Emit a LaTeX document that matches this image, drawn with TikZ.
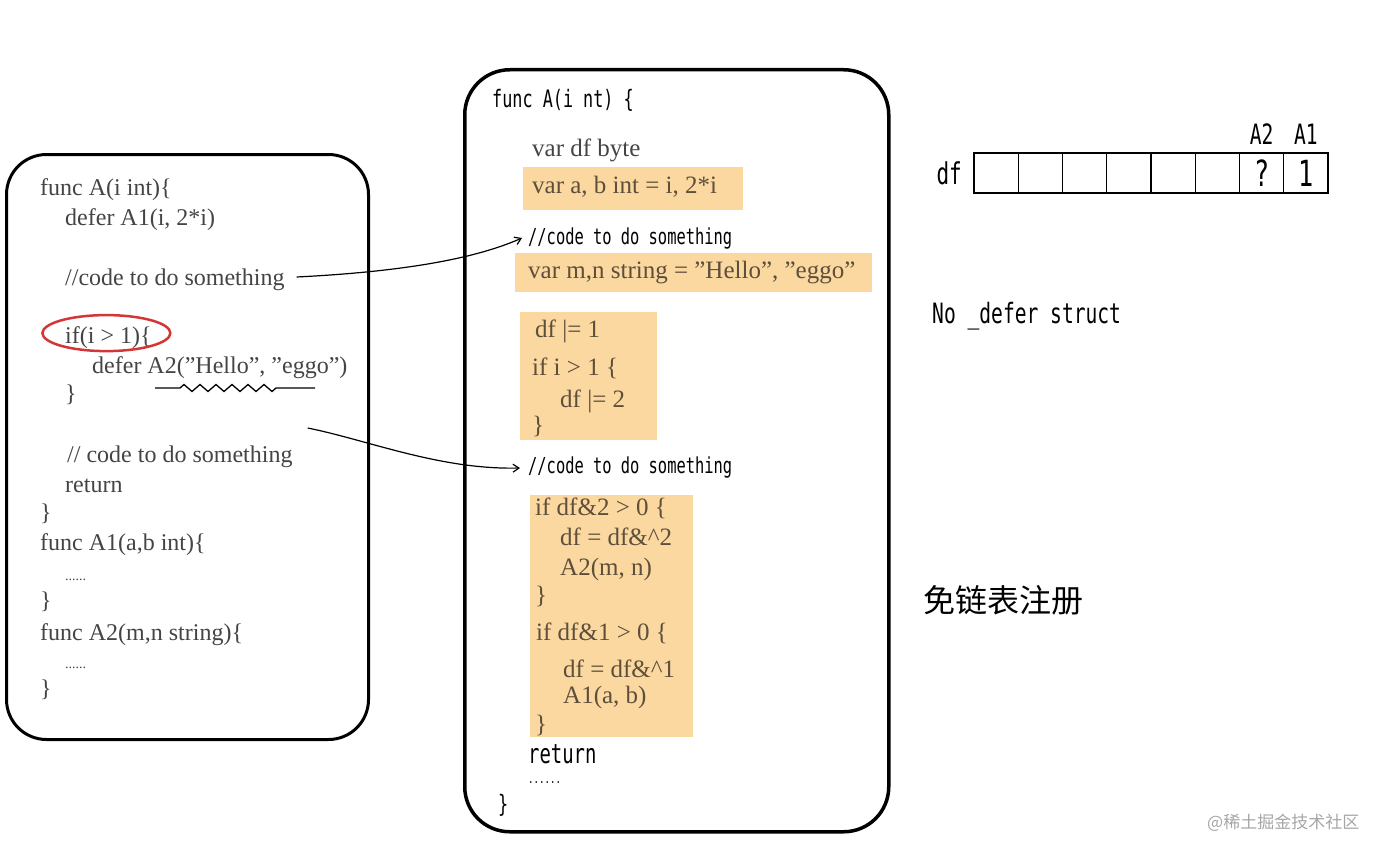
\documentclass[tikz,border=0pt]{standalone}
\usepackage{fontspec}
\setmainfont{Liberation Serif}
\newfontfamily\handfont[FakeStretch=0.7]{DejaVu Sans Mono}
\newfontfamily\cjk{Noto Sans CJK SC}
\usepackage{xcolor}
\usetikzlibrary{arrows.meta, positioning, calc, decorations.pathmorphing}

\definecolor{hlfill}{HTML}{FAD8A0}
\definecolor{codegray}{HTML}{444444}
\definecolor{hltext}{HTML}{5E4E3A}
\definecolor{markred}{HTML}{D43535}

\begin{document}
\begin{tikzpicture}[
  x=1pt, y=-1pt,
  fnbox/.style={draw, line width=3pt, rounded corners=40pt, anchor=north west, inner sep=0pt},
  code/.style={anchor=base west, inner sep=0pt, text=codegray, font=\fontsize{24}{28}\selectfont},
  mcode/.style={anchor=base west, inner sep=0pt, text=hltext, font=\fontsize{25}{30}\selectfont},
  hand/.style={anchor=base west, inner sep=0pt, font=\handfont\fontsize{22}{26}\selectfont},
  hl/.style={fill=hlfill, anchor=north west, inner sep=0pt},
  cell/.style={draw, line width=1.3pt, minimum width=44.25pt, minimum height=40pt, inner sep=0pt, outer sep=0pt, font=\handfont\fontsize{36}{36}\selectfont},
  link/.style={-{Straight Barb[length=6pt, width=8pt]}, line width=1.2pt}
]
\useasboundingbox (0,0) rectangle (1391,856);

% source function
\node[fnbox, minimum width=362pt, minimum height=585pt] (srcfn) at (5,153) {};
\node[code] (s1) at (40,195) {func A(i int)\{};
\node[code] (s2) at (65,225) {defer A1(i, 2*i)};
\node[code] (lcmt1) at (65,285) {//code to do something};
\node[code] (s3) at (65,343) {if(i > 1)\{};
\node[code] (s4) at (92,373) {defer A2("Hello", "eggo")};
\node[code] (s5) at (65,401) {\}};
\node[code] (lcmt2) at (67,462) {// code to do something};
\node[code] (s6) at (65,492) {return};
\node[code] (s7) at (40,520) {\}};
\node[code] (s8) at (40,550) {func A1(a,b int)\{};
\node[code, font=\fontsize{14}{14}\selectfont] (s9) at (65,580) {......};
\node[code] (s10) at (40,608) {\}};
\node[code] (s11) at (40,640) {func A2(m,n string)\{};
\node[code, font=\fontsize{14}{14}\selectfont] (s12) at (65,668) {......};
\node[code] (s13) at (40,696) {\}};
\draw[markred, line width=2.5pt] ($(s3.center)+(-2,-4)$) ellipse [x radius=64, y radius=18];
\draw[line width=1.3pt] ([shift={(63,15)}]s4.base west) -- ++(25,0)
  decorate[decoration={zigzag, segment length=16pt, amplitude=3.5pt}] {-- ++(100,0)} -- ++(35,0);

% lowered function
\node[fnbox, line width=3.5pt, rounded corners=45pt, minimum width=424pt, minimum height=762pt] (lowfn) at (463,68) {};
\node[hand, font=\handfont\fontsize{24}{28}\selectfont] (m0) at (492,107) {func A(i nt) \{};
\node[mcode, text=codegray] (m1) at (532,157) {var df byte};
\node[hl, minimum width=220pt, minimum height=43pt] (hl1) at (523,167) {};
\node[mcode] (m2) at (532,193) {var a, b int = i, 2*i};
\node[hand] (mcmt1) at (528,244) {//code to do something};
\node[hl, minimum width=357pt, minimum height=39pt] (hl2) at (515,253) {};
\node[mcode] (m3) at (528,278) {var m,n string = "Hello", "eggo"};
\node[hl, minimum width=137pt, minimum height=128pt] (hl3) at (520,312) {};
\node[mcode] (m4) at (535,337) {df |= 1};
\node[mcode] (m5) at (532,375) {if i > 1 \{};
\node[mcode] (m6) at (560,407) {df |= 2};
\node[mcode] (m7) at (532,433) {\}};
\node[hand] (mcmt2) at (528,473) {//code to do something};
\node[hl, minimum width=163pt, minimum height=242pt] (hl4) at (530,495) {};
\node[mcode] (m8) at (535,515) {if df\&2 > 0 \{};
\node[mcode] (m9) at (560,545) {df = df\&\^{}2};
\node[mcode] (m10) at (560,575) {A2(m, n)};
\node[mcode] (m11) at (535,603) {\}};
\node[mcode] (m12) at (536,640) {if df\&1 > 0 \{};
\node[mcode] (m13) at (563,677) {df = df\&\^{}1};
\node[mcode] (m14) at (563,703) {A1(a, b)};
\node[mcode] (m15) at (535,732) {\}};
\node[hand, font=\handfont\fontsize{27}{30}\selectfont] (m16) at (528,763) {return};
\node[hand, font=\handfont\fontsize{13}{13}\selectfont] (m17) at (528,783) {......};
\node[hand, font=\handfont\fontsize{24}{28}\selectfont] (m18) at (498,812) {\}};

\draw[link] ([xshift=12pt, yshift=8pt]lcmt1.base east) .. controls +(100,-5) and +(-50,22) .. ([xshift=-6pt, yshift=6pt]mcmt1.base west);
\draw[link] ([xshift=15pt, yshift=34pt]lcmt2.base east) .. controls +(60,12) and +(-80,2) .. ([xshift=-8pt, yshift=5pt]mcmt2.base west);

% df bits
\node[cell, anchor=north west] (c1) at (974,153) {};
\node[cell, right=0pt of c1] (c2) {};
\node[cell, right=0pt of c2] (c3) {};
\node[cell, right=0pt of c3] (c4) {};
\node[cell, right=0pt of c4] (c5) {};
\node[cell, right=0pt of c5] (c6) {};
\node[cell, right=0pt of c6] (c7) {?};
\node[cell, right=0pt of c7] (c8) {1};
\node[hand, font=\handfont\fontsize{30}{30}\selectfont, left=12pt of c1] (dflbl) {df};
\node[hand, font=\handfont\fontsize{28}{28}\selectfont, above=8pt of c7] (a2lbl) {A2};
\node[hand, font=\handfont\fontsize{28}{28}\selectfont, above=8pt of c8] (a1lbl) {A1};

\node[hand, font=\handfont\fontsize{28}{28}\selectfont] (nodefer) at (932,323) {No \_defer struct};
\node[anchor=west, inner sep=0pt, font=\cjk\fontsize{32}{32}\selectfont] (freelist) at (923,600) {免链表注册};
\node[anchor=west, inner sep=0pt, text=gray!70, font=\cjk\fontsize{17}{17}\selectfont] (wmark) at (1207,823) {@稀土掘金技术社区};
\end{tikzpicture}
\end{document}
